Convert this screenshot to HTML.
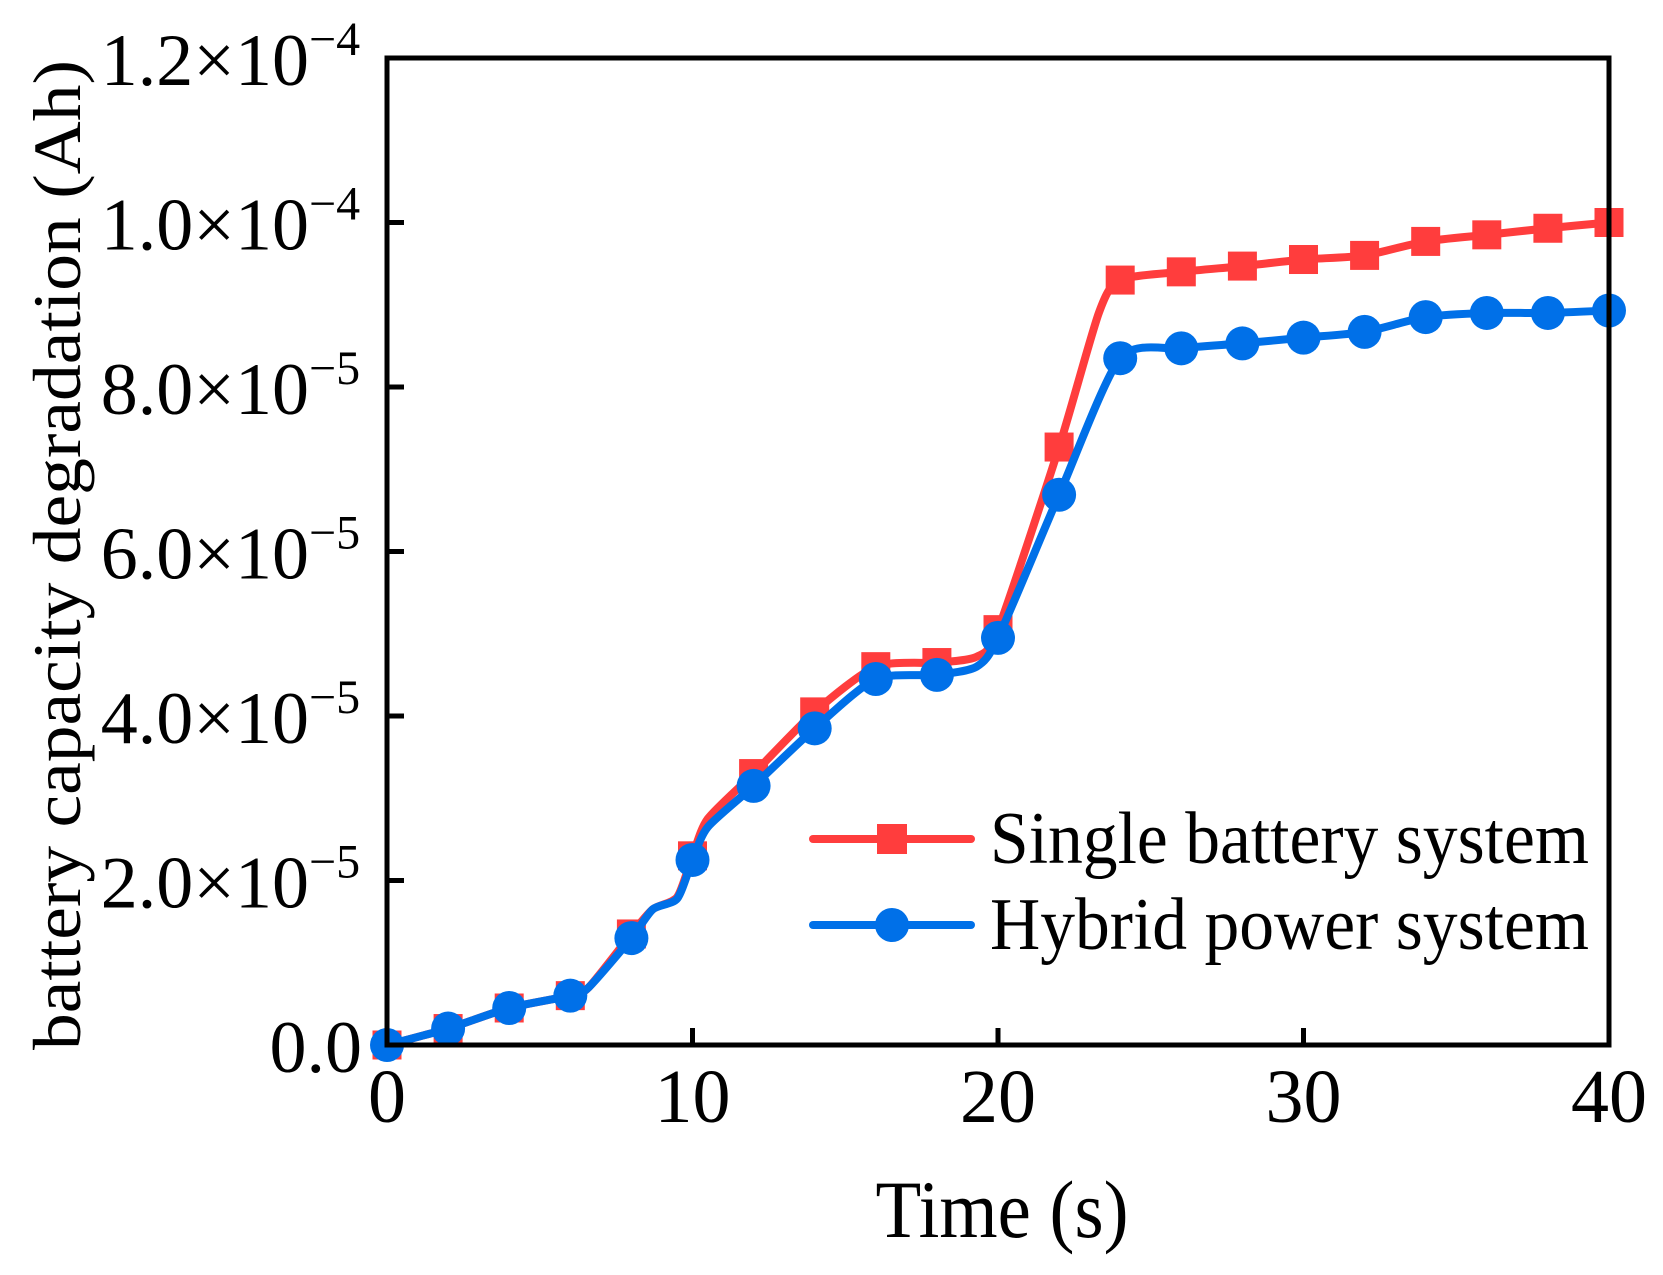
<!DOCTYPE html>
<html><head><meta charset="utf-8"><style>
html,body{margin:0;padding:0;background:#fff;}
svg{display:block;font-family:"Liberation Serif","Times New Roman",serif;}
</style></head><body>
<svg id="chart" width="1663" height="1275" viewBox="0 0 1663 1275" xmlns="http://www.w3.org/2000/svg">
<g id="plot"></g>
<g id="axes"></g>
<text transform="translate(80,555) rotate(-90)" text-anchor="middle" font-size="68" textLength="990" lengthAdjust="spacingAndGlyphs">battery capacity degradation (Ah)</text>
<text x="1002" y="1237" text-anchor="middle" font-size="82" textLength="253" lengthAdjust="spacingAndGlyphs">Time (s)</text>
<g>
  <g>
    <line x1="813" y1="839" x2="971" y2="839" stroke="#ff3d3d" stroke-width="8" stroke-linecap="round"/>
    <rect x="877" y="824" width="30" height="30" fill="#ff3d3d"/>
    <text x="990" y="863" font-size="74" textLength="599" lengthAdjust="spacingAndGlyphs">Single battery system</text>
  </g>
  <g>
    <line x1="813" y1="925" x2="971" y2="925" stroke="#0070e8" stroke-width="8" stroke-linecap="round"/>
    <circle cx="892" cy="925" r="17" fill="#0070e8"/>
    <text x="990" y="949" font-size="74" textLength="599" lengthAdjust="spacingAndGlyphs">Hybrid power system</text>
  </g>
</g>
</svg>
<script>
const markerTimes = [0,2,4,6,8,10,12,14,16,18,20,22,24,26,28,30,32,34,36,38,40];
const singleValues = [0,0.2,0.45,0.6,1.35,2.3,3.3,4.05,4.6,4.65,5.05,7.27,9.3,9.4,9.47,9.55,9.6,9.77,9.85,9.93,10.0];
const hybridValues = [0,0.2,0.45,0.6,1.3,2.25,3.15,3.85,4.45,4.5,4.95,6.69,8.35,8.47,8.53,8.6,8.67,8.85,8.9,8.9,8.93];
// line paths include intermediate shape points
const singleLineT = [0,2,4,6,6.6,8,8.7,9.5,10,10.5,12,14,16,18,19.3,20,22,23.3,24,26,28,30,32,34,36,38,40];
const singleLineV = [0,0.2,0.45,0.6,0.7,1.35,1.65,1.8,2.3,2.75,3.3,4.05,4.6,4.65,4.72,5.05,7.27,8.9,9.3,9.4,9.47,9.55,9.6,9.77,9.85,9.93,10.0];
const hybridLineT = [0,2,4,6,6.6,8,8.7,9.5,10,10.5,12,14,16,18,19.3,20,22,24,26,28,30,32,34,36,38,40];
const hybridLineV = [0,0.2,0.45,0.6,0.7,1.3,1.65,1.78,2.25,2.65,3.15,3.85,4.45,4.5,4.6,4.95,6.69,8.35,8.47,8.53,8.6,8.67,8.85,8.9,8.9,8.93];
const xTicks = [0,10,20,30,40];
const xTickLabels = ["0","10","20","30","40"];
const yTicks = [0,2,4,6,8,10,12];
const yTickMain = ["0.0","2.0×10","4.0×10","6.0×10","8.0×10","1.0×10","1.2×10"];
const yTickExp = ["","−5","−5","−5","−5","−4","−4"];

const X0=387,X1=1609,Y0=1045,Y1=58;
const sx=t=>X0+(t/40)*(X1-X0);
const sy=v=>Y0-(v/12)*(Y0-Y1);
const NS="http://www.w3.org/2000/svg";
const plot=document.getElementById('plot'), axes=document.getElementById('axes');
function mk(tag,attrs,parent){const e=document.createElementNS(NS,tag);for(const k in attrs)e.setAttribute(k,attrs[k]);parent.appendChild(e);return e;}
function smoothPath(ts,vs){
  const p=ts.map((t,i)=>[sx(t),sy(vs[i])]);
  let d=`M${p[0][0]},${p[0][1]}`;
  const k=0.12;
  for(let i=0;i<p.length-1;i++){
    const a=p[Math.max(0,i-1)],b=p[i],c=p[i+1],e=p[Math.min(p.length-1,i+2)];
    const c1=[b[0]+(c[0]-a[0])*k,b[1]+(c[1]-a[1])*k];
    const c2=[c[0]-(e[0]-b[0])*k,c[1]-(e[1]-b[1])*k];
    d+=` C${c1[0]},${c1[1]} ${c2[0]},${c2[1]} ${c[0]},${c[1]}`;
  }
  return d;
}
const l1=mk('path',{d:smoothPath(singleLineT,singleLineV),fill:'none',stroke:'#ff3d3d','stroke-width':8,'stroke-linejoin':'round'},plot);


markerTimes.forEach((t,i)=>{
  const r=mk('rect',{x:sx(t)-14.5,y:sy(singleValues[i])-14.5,width:29,height:29,fill:'#ff3d3d'},plot);
  
  
});
const l2=mk('path',{d:smoothPath(hybridLineT,hybridLineV),fill:'none',stroke:'#0070e8','stroke-width':8,'stroke-linejoin':'round'},plot);


markerTimes.forEach((t,i)=>{
  const c=mk('circle',{cx:sx(t),cy:sy(hybridValues[i]),r:17,fill:'#0070e8'},plot);
  
  
});
const frame=mk('rect',{x:X0,y:Y1,width:X1-X0,height:Y0-Y1,fill:'none',stroke:'#000','stroke-width':5},axes);


xTicks.forEach((t,i)=>{
  const tk=mk('line',{x1:sx(t),y1:Y0,x2:sx(t),y2:Y0-17,stroke:'#000','stroke-width':5},axes);
  
  
  const tx=mk('text',{x:sx(t),y:1122,'text-anchor':'middle','font-size':76},axes);
  tx.textContent=xTickLabels[i];
  
  
});
yTicks.forEach((v,i)=>{
  const tk=mk('line',{x1:X0,y1:sy(v),x2:X0+17,y2:sy(v),stroke:'#000','stroke-width':5},axes);
  
  
  const tx=mk('text',{x:yTickExp[i]?309:362,y:sy(v)+27,'text-anchor':'end','font-size':74},axes);
  tx.textContent=yTickMain[i];
  
  
  if(yTickExp[i]){
    const ex=mk('text',{x:309,y:sy(v)-3,'font-size':48},axes);
    ex.textContent=yTickExp[i];
    
    
  }
});
</script>
</body></html>
